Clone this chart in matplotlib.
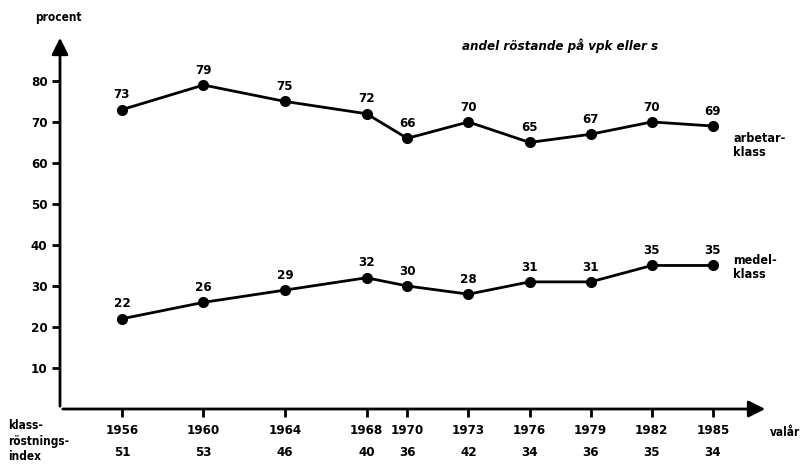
import matplotlib.pyplot as plt

plt.rcParams['font.family'] = ['DejaVu Sans']
plt.rcParams['font.stretch'] = 'condensed'
plt.rcParams['font.weight'] = 'bold'

years = [1956, 1960, 1964, 1968, 1970, 1973, 1976, 1979, 1982, 1985]
arbetarklass = [73, 79, 75, 72, 66, 70, 65, 67, 70, 69]
medelklass = [22, 26, 29, 32, 30, 28, 31, 31, 35, 35]
index = [51, 53, 46, 40, 36, 42, 34, 36, 35, 34]
yticks = [10, 20, 30, 40, 50, 60, 70, 80]

fig = plt.figure(figsize=(8.05, 4.66), dpi=100)
ax = fig.add_axes([60 / 805, 57 / 466, 708 / 805, 374 / 466])
ax.set_xlim(1952.96, 1987.7)
ax.set_ylim(0, 91.2)

for s in ax.spines.values():
    s.set_visible(False)

# axes with arrows
ax.annotate('', xy=(0, 1), xytext=(0, 0), xycoords='axes fraction',
            arrowprops=dict(arrowstyle='-|>', color='black', lw=2, mutation_scale=25))
ax.annotate('', xy=(1, 0), xytext=(0, 0), xycoords='axes fraction',
            arrowprops=dict(arrowstyle='-|>', color='black', lw=2, mutation_scale=25))

ax.set_yticks(yticks)
ax.set_yticklabels([str(v) for v in yticks], fontsize=9.5)
ax.set_xticks(years)
ax.set_xticklabels([])
ax.tick_params(axis='both', direction='out', length=6, width=2, color='black')
ax.tick_params(axis='y', pad=3)

ax.plot(years, arbetarklass, color='black', lw=2, marker='o', markersize=7, clip_on=False)
ax.plot(years, medelklass, color='black', lw=2, marker='o', markersize=7, clip_on=False)

for x, a, m in zip(years, arbetarklass, medelklass):
    ax.annotate(str(a), (x, a), xytext=(0, 6), textcoords='offset points',
                ha='center', va='bottom', fontsize=9.5)
    ax.annotate(str(m), (x, m), xytext=(0, 6), textcoords='offset points',
                ha='center', va='bottom', fontsize=9.5)

# year and index rows below the axis
for x, v in zip(years, index):
    ax.annotate(str(x), (x, 0), xytext=(0, -11), textcoords='offset points',
                ha='center', va='top', fontsize=9.5)
    ax.annotate(str(v), (x, 0), xytext=(0, -27), textcoords='offset points',
                ha='center', va='top', fontsize=9.5)

fig.text(8 / 805, 1 - 419 / 466, 'klass-\nröstnings-\nindex', ha='left', va='top',
         fontsize=8.5, linespacing=1.25)
fig.text(770 / 805, 1 - 432 / 466, 'valår', ha='left', va='center', fontsize=8.5)
fig.text(58 / 805, 1 - 17 / 466, 'procent', ha='center', va='center', fontsize=8.5)
fig.text(560 / 805, 1 - 46 / 466, 'andel röstande på vpk eller s', ha='center', va='center',
         fontsize=9.5, style='italic')

fig.text(733 / 805, 1 - 145 / 466, 'arbetar-\nklass', ha='left', va='center',
         fontsize=9, linespacing=1.1)
fig.text(733 / 805, 1 - 268 / 466, 'medel-\nklass', ha='left', va='center',
         fontsize=9, linespacing=1.1)

fig.savefig('out.png', dpi=100)
